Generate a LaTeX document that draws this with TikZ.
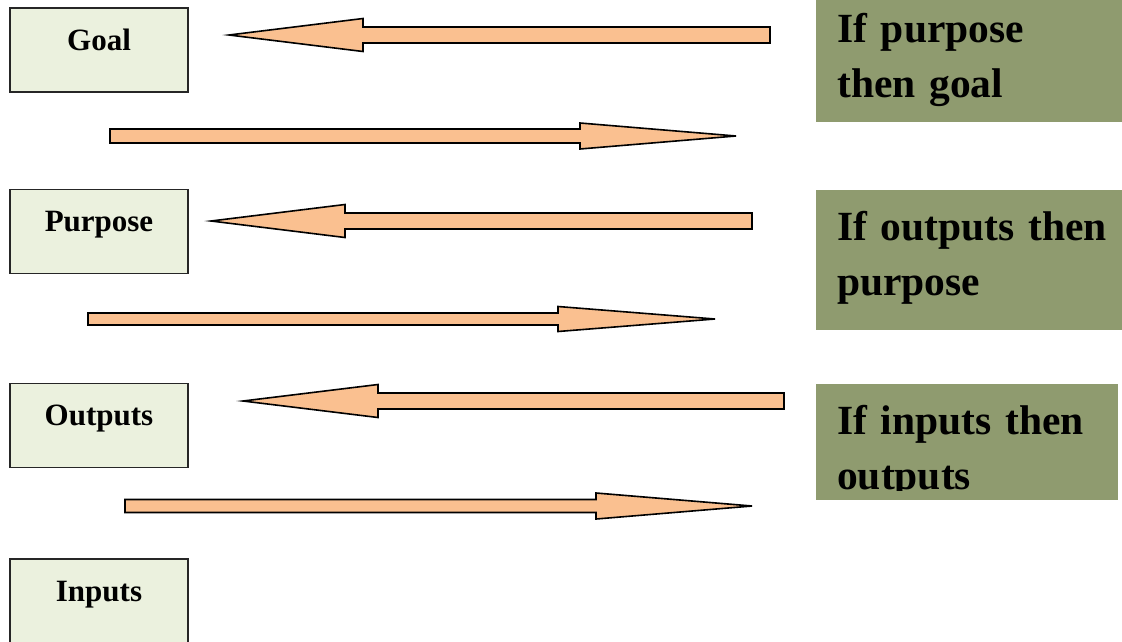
\documentclass[tikz,border=0pt]{standalone}
\usepackage{fontspec}
\setmainfont{Liberation Serif}[WordSpace=0.8,BoldFeatures={WordSpace=0.8}]
\definecolor{peach}{RGB}{250,192,144}
\definecolor{boxgreen}{RGB}{235,241,222}
\definecolor{olivebox}{RGB}{143,155,111}
\tikzset{
  lbox/.style={draw=black!85, line width=1.8pt, fill=boxgreen, minimum width=178pt,
    minimum height=84pt, inner xsep=0pt, inner ysep=22pt, text height=20pt, text depth=20pt,
    font=\fontsize{31}{36}\selectfont\bfseries},
  gbox/.style={fill=olivebox, draw=none, inner sep=0pt, anchor=north west},
  gtext/.style={anchor=base west, inner sep=0pt, text width=290pt, align=left,
    font=\fontsize{41.5}{55}\selectfont\bfseries},
  blockarrow/.style={fill=peach, draw=black, line width=1.6pt, line join=miter},
}
% tip x, y, head base x, tail x, head half height, shaft half height
\newcommand\myblockarrow[6]{%
  \filldraw[blockarrow] (#1,#2) -- (#3,{#2-#5}) -- (#3,{#2-#6}) -- (#4,{#2-#6})
    -- (#4,{#2+#6}) -- (#3,{#2+#6}) -- (#3,{#2+#5}) -- cycle;}
\begin{document}
\begin{tikzpicture}[x=1pt,y=-1pt]
\useasboundingbox (0,0) rectangle (1122,641);
\clip (0,0) rectangle (1122,641);
% left boxes
\node[lbox] (goal) at (99,50) {Goal};
\node[lbox] (purpose) at (99,231.5) {Purpose};
\node[lbox] (outputs) at (99,425.5) {Outputs};
\node[lbox] (inputs) at (99,601) {Inputs};
% right boxes
\node[gbox, minimum width=306pt, minimum height=130pt] (g1) at (816,-8) {};
\node[gbox, minimum width=306pt, minimum height=140pt] (g2) at (816,190) {};
\node[gbox, minimum width=302pt, minimum height=116pt] (g3) at (816,384) {};
\node[gtext] (t1) at (837,42) {If purpose\\then goal};
\node[gtext] (t2) at (837,240) {If outputs then\\purpose};
\begin{scope}
  \clip (816,384) rectangle (1118,490);
  \node[gtext] (t3) at (837,434) {If inputs then\\outputs};
\end{scope}
% arrows
\myblockarrow{229}{35}{363}{770}{16.5}{8}
\myblockarrow{736}{136}{580}{110}{13}{7}
\myblockarrow{211}{221}{345}{752}{16.5}{8}
\myblockarrow{715}{319}{558}{88}{12.5}{6}
\myblockarrow{243}{401}{378}{784}{16.5}{8}
\myblockarrow{752}{506}{596}{125}{13}{6.5}
\end{tikzpicture}
\end{document}
